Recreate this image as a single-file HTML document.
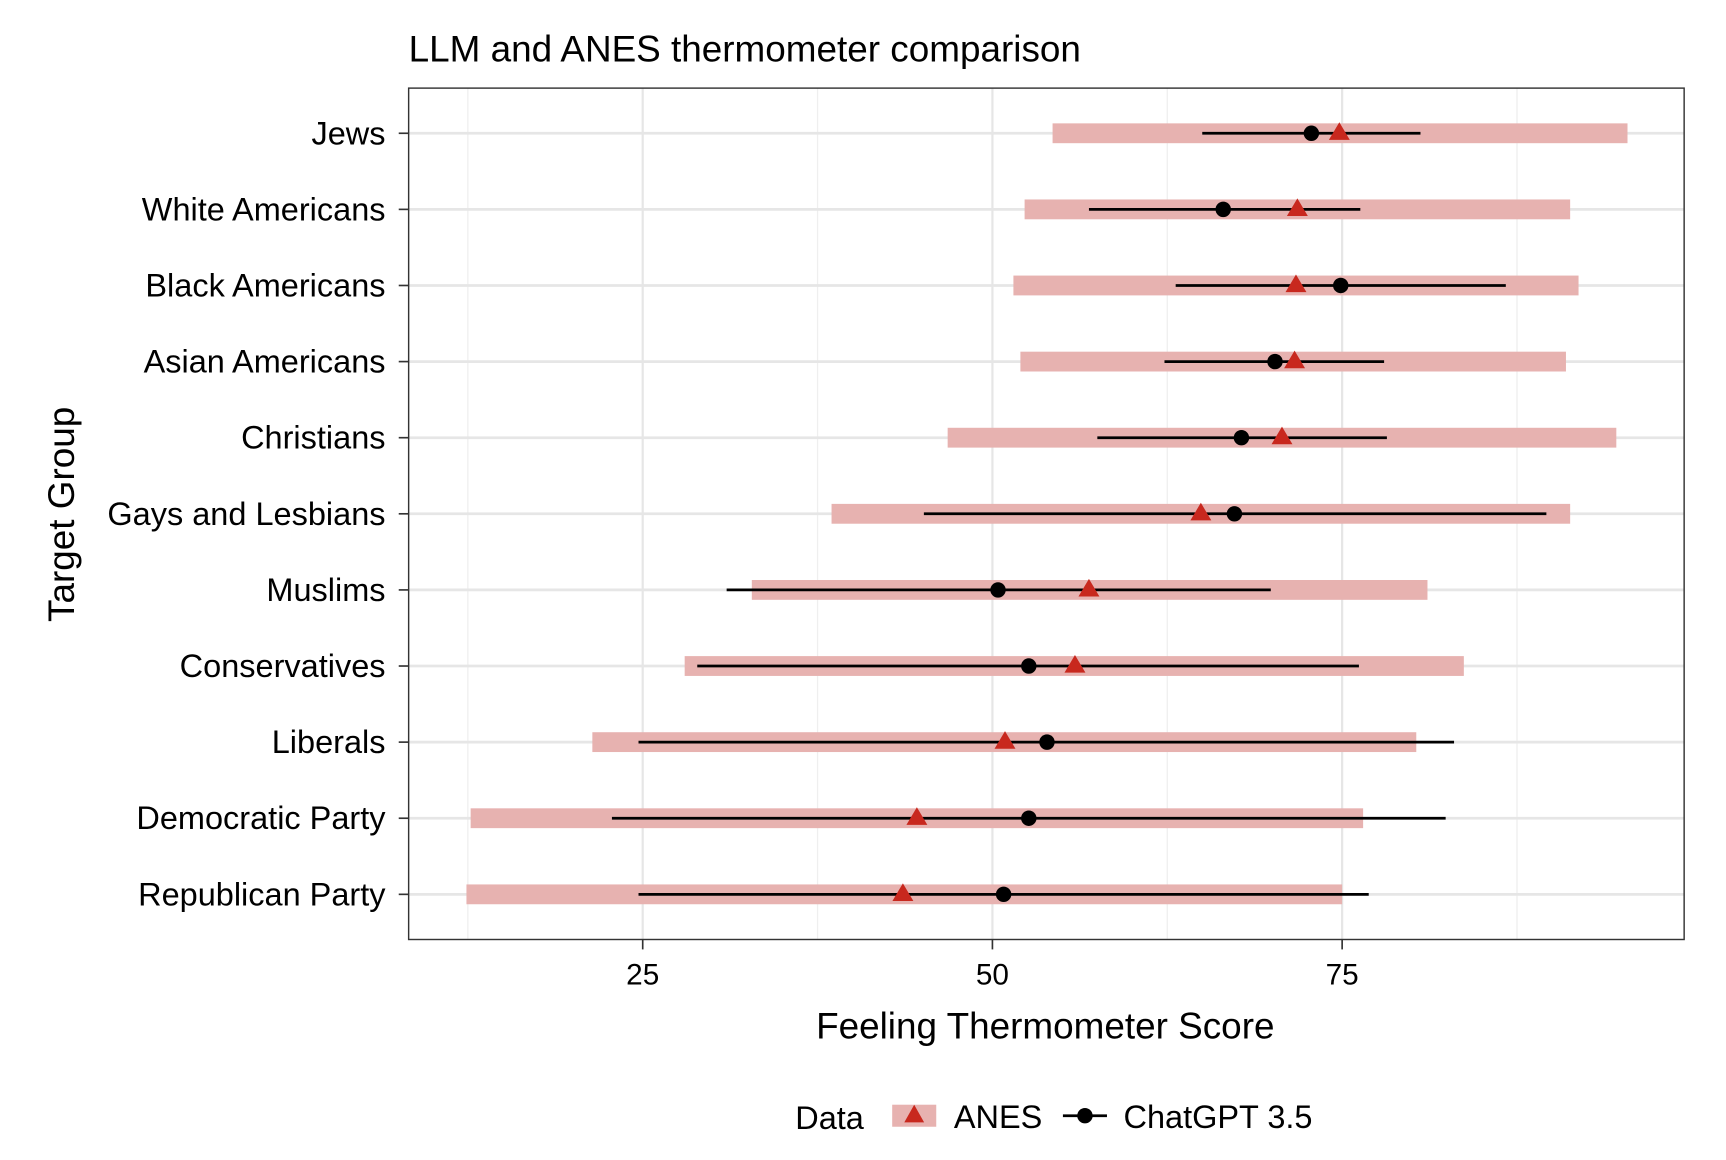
<!DOCTYPE html>
<html><head><meta charset="utf-8"><style>
html,body{margin:0;padding:0;background:#fff}
svg{display:block}
text{font-family:"Liberation Sans",Arial,sans-serif;fill:#000}
</style></head><body>
<svg id="chart" width="1726" height="1160" viewBox="0 0 1567 1053.2" preserveAspectRatio="none" xmlns="http://www.w3.org/2000/svg">
<text x="371" y="56" font-size="33.5">LLM and ANES thermometer comparison</text>
<g id="grid"></g>
<g id="marks"></g>
<rect x="371" y="80" width="1158" height="773" fill="none" stroke="#333" stroke-width="1.3"/>
<g id="axes"></g>
<text x="949" y="943" font-size="33.5" text-anchor="middle">Feeling Thermometer Score</text>
<text transform="translate(67,467) rotate(-90)" font-size="33.5" text-anchor="middle">Target Group</text>
<g>
<text x="722" y="1025" font-size="29.5">Data</text>
<g>
<rect x="810" y="1003" width="40" height="20" fill="#e7b2b0"/>
<polygon points="830,1003 839,1019 821,1019" fill="#c8281e"/>
<text x="866" y="1024" font-size="29.5">ANES</text>
</g>
<g>
<line x1="965" y1="1013" x2="1005" y2="1013" stroke="#000" stroke-width="2.5"/>
<circle cx="985" cy="1013" r="7" fill="#000"/>
<text x="1020" y="1024" font-size="29.5">ChatGPT 3.5</text>
</g>
</g>
</svg>
<script>
const groups=["Jews","White Americans","Black Americans","Asian Americans","Christians","Gays and Lesbians","Muslims","Conservatives","Liberals","Democratic Party","Republican Party"];
const anesLow=[54.3,52.3,51.5,52.0,46.8,38.5,32.8,28.0,21.4,12.7,12.4];
const anesHigh=[95.4,91.3,91.9,91.0,94.6,91.3,81.1,83.7,80.3,76.5,75.0];
const anesMean=[74.8,71.8,71.7,71.6,70.7,64.9,56.9,55.9,50.9,44.6,43.6];
const gptMean=[72.8,66.5,74.9,70.2,67.8,67.3,50.4,52.6,53.9,52.6,50.8];
const gptLow=[65.0,56.9,63.1,62.3,57.5,45.1,31.0,28.9,24.7,22.8,24.7];
const gptHigh=[80.6,76.3,86.7,78.0,78.2,89.6,69.9,76.2,83.0,82.4,76.9];
const xTicks=[25,50,75];
const xMinor=[12.5,37.5,62.5,87.5];
const NS="http://www.w3.org/2000/svg";
const x=v=>583.5+(v-25)*12.7;
const y=i=>121+i*69.1;
function mk(tag,attrs,parent){const e=document.createElementNS(NS,tag);for(const k in attrs)e.setAttribute(k,attrs[k]);parent.appendChild(e);return e;}
const grid=document.getElementById('grid'),marks=document.getElementById('marks'),axes=document.getElementById('axes');
xMinor.forEach(v=>{const l=mk('line',{x1:x(v),x2:x(v),y1:80,y2:853,stroke:'#efefef','stroke-width':1.2},grid);

});
xTicks.forEach(v=>{const l=mk('line',{x1:x(v),x2:x(v),y1:80,y2:853,stroke:'#e6e6e6','stroke-width':2},grid);


const t=mk('line',{x1:x(v),x2:x(v),y1:853,y2:862,stroke:'#333','stroke-width':1.5},axes);


const tx=mk('text',{x:x(v),y:894,'font-size':27,'text-anchor':'middle'},axes);tx.textContent=v;

});
groups.forEach((g,i)=>{
const l=mk('line',{x1:371,x2:1529,y1:y(i),y2:y(i),stroke:'#e6e6e6','stroke-width':2.5},grid);


const t=mk('line',{x1:362,x2:371,y1:y(i),y2:y(i),stroke:'#333','stroke-width':1.5},axes);


const tx=mk('text',{x:350,y:y(i)+10,'font-size':29.5,'text-anchor':'end'},axes);tx.textContent=g;


const b=mk('rect',{x:x(anesLow[i]),y:y(i)-9,width:x(anesHigh[i])-x(anesLow[i]),height:18,fill:'#e7b2b0'},marks);


const w=mk('line',{x1:x(gptLow[i]),x2:x(gptHigh[i]),y1:y(i),y2:y(i),stroke:'#000','stroke-width':2.5},marks);


const cx=x(anesMean[i]),cy=y(i);
const tr=mk('polygon',{points:`${cx},${cy-10} ${cx+9.5},${cy+6} ${cx-9.5},${cy+6}`,fill:'#c8281e'},marks);


const c=mk('circle',{cx:x(gptMean[i]),cy:y(i),r:7,fill:'#000'},marks);


});
</script>
</body></html>
